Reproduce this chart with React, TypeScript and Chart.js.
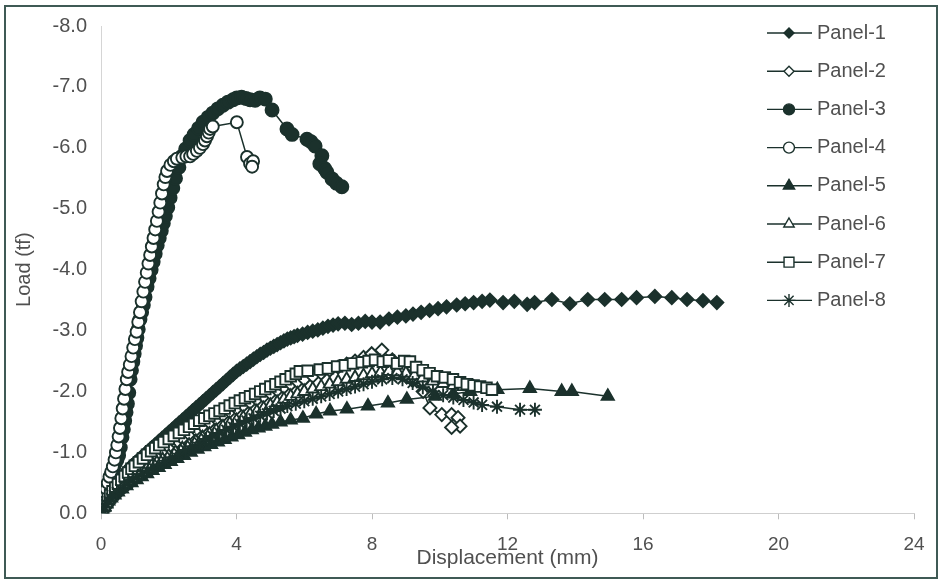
import React, { useEffect, useRef } from 'react';
import { Chart, registerables } from 'chart.js';
import { drawPoint } from 'chart.js/helpers';

Chart.register(...registerables);

// ---- data: [displacement (mm), load (tf)] ----
const seriesNames = ['Panel-1', 'Panel-2', 'Panel-3', 'Panel-4', 'Panel-5', 'Panel-6', 'Panel-7', 'Panel-8'];
const xTickValues = [0, 4, 8, 12, 16, 20, 24];
const yTickValues = [0, -1, -2, -3, -4, -5, -6, -7, -8];

const panel1: [number, number][] = [
  [0, 0], [0.05, -0.06], [0.1, -0.12], [0.15, -0.18], [0.2, -0.24], [0.25, -0.3], [0.3, -0.35], [0.36, -0.4],
  [0.42, -0.46], [0.5, -0.52], [0.58, -0.57], [0.66, -0.63], [0.74, -0.68], [0.82, -0.73], [0.9, -0.78],
  [1.0, -0.83], [1.1, -0.88], [1.2, -0.93], [1.3, -0.98], [1.4, -1.03], [1.5, -1.08], [1.6, -1.13],
  [1.7, -1.18], [1.8, -1.23], [1.9, -1.28], [2.0, -1.33], [2.1, -1.38], [2.2, -1.43], [2.3, -1.48],
  [2.4, -1.53], [2.5, -1.58], [2.6, -1.63], [2.7, -1.68], [2.8, -1.73], [2.9, -1.78], [3.0, -1.83],
  [3.1, -1.88], [3.2, -1.93], [3.3, -1.98], [3.4, -2.03], [3.5, -2.08], [3.6, -2.13], [3.7, -2.18],
  [3.8, -2.23], [3.9, -2.28], [4.0, -2.33], [4.1, -2.37], [4.2, -2.41], [4.3, -2.45], [4.4, -2.49],
  [4.5, -2.53], [4.6, -2.57], [4.7, -2.61], [4.8, -2.64], [4.9, -2.68], [5.0, -2.71], [5.1, -2.74],
  [5.2, -2.77], [5.3, -2.8], [5.4, -2.83], [5.5, -2.86], [5.6, -2.88], [5.7, -2.9], [5.8, -2.92],
  [5.95, -2.94], [6.1, -2.97], [6.25, -2.99], [6.4, -3.01], [6.55, -3.04], [6.7, -3.07], [6.85, -3.09],
  [7.0, -3.11], [7.2, -3.12], [7.4, -3.1], [7.6, -3.12], [7.8, -3.15], [8.0, -3.14], [8.24, -3.14],
  [8.5, -3.19], [8.75, -3.22], [9.0, -3.24], [9.21, -3.27], [9.45, -3.3], [9.7, -3.33], [9.95, -3.36],
  [10.2, -3.39], [10.5, -3.42], [10.75, -3.44], [11.0, -3.46], [11.25, -3.48], [11.48, -3.5],
  [11.87, -3.46], [12.2, -3.48], [12.58, -3.43], [12.8, -3.46], [13.31, -3.51], [13.84, -3.44],
  [14.37, -3.51], [14.87, -3.51], [15.37, -3.51], [15.81, -3.54], [16.35, -3.56], [16.85, -3.54],
  [17.3, -3.51], [17.77, -3.49], [18.18, -3.46],
];

const panel2: [number, number][] = [
  [0, 0], [0.05, -0.06], [0.1, -0.12], [0.15, -0.17], [0.21, -0.22], [0.28, -0.28], [0.36, -0.34],
  [0.45, -0.4], [0.55, -0.46], [0.66, -0.52], [0.78, -0.58], [0.9, -0.64], [1.03, -0.7], [1.17, -0.76],
  [1.32, -0.82], [1.48, -0.88], [1.65, -0.95], [1.83, -1.02], [2.0, -1.09], [2.2, -1.16], [2.4, -1.23],
  [2.6, -1.3], [2.8, -1.37], [3.0, -1.43], [3.2, -1.49], [3.4, -1.55], [3.6, -1.61], [3.8, -1.67],
  [4.0, -1.72], [4.2, -1.77], [4.4, -1.82], [4.6, -1.87], [4.8, -1.92], [5.0, -1.97], [5.2, -2.02],
  [5.4, -2.07], [5.6, -2.12], [5.8, -2.16], [6.0, -2.2], [6.25, -2.25], [6.5, -2.3], [6.75, -2.35],
  [7.0, -2.4], [7.25, -2.45], [7.5, -2.5], [7.75, -2.56], [7.99, -2.62], [8.29, -2.68], [8.6, -2.52],
  [8.9, -2.35], [9.2, -2.18], [9.51, -2.0], [9.71, -1.73], [10.06, -1.62], [10.35, -1.62],
  [10.54, -1.57], [10.6, -1.43], [10.35, -1.41],
];

const panel3: [number, number][] = [
  [0, 0], [0.04, -0.08], [0.08, -0.16], [0.12, -0.25], [0.17, -0.35], [0.22, -0.45], [0.27, -0.55],
  [0.32, -0.65], [0.37, -0.74], [0.42, -0.82], [0.47, -0.88], [0.52, -0.95], [0.57, -1.08],
  [0.62, -1.25], [0.66, -1.38], [0.7, -1.52], [0.74, -1.66], [0.78, -1.8], [0.82, -1.98], [0.86, -2.2],
  [0.9, -2.35], [0.94, -2.49], [0.98, -2.62], [1.02, -2.75], [1.06, -2.88], [1.1, -3.02], [1.15, -3.18],
  [1.2, -3.3], [1.25, -3.42], [1.3, -3.55], [1.36, -3.72], [1.42, -3.86], [1.48, -4.0], [1.54, -4.13],
  [1.6, -4.26], [1.66, -4.4], [1.72, -4.52], [1.78, -4.64], [1.84, -4.76], [1.9, -4.88], [1.97, -5.02],
  [2.04, -5.18], [2.12, -5.34], [2.2, -5.5], [2.3, -5.68], [2.39, -5.86], [2.5, -5.98], [2.63, -6.12],
  [2.75, -6.22], [2.88, -6.32], [3.01, -6.42], [3.16, -6.5], [3.3, -6.57], [3.45, -6.64], [3.6, -6.7],
  [3.75, -6.75], [3.9, -6.79], [4.01, -6.82], [4.15, -6.83], [4.28, -6.81], [4.4, -6.79],
  [4.55, -6.78], [4.69, -6.82], [4.85, -6.8], [5.05, -6.62], [5.49, -6.31], [5.64, -6.22],
  [6.08, -6.14], [6.2, -6.1], [6.32, -6.03], [6.52, -5.87], [6.46, -5.74], [6.6, -5.66],
  [6.67, -5.6], [6.82, -5.49], [6.95, -5.42], [7.11, -5.36],
];

const panel4: [number, number][] = [
  [0, 0], [0.04, -0.1], [0.08, -0.2], [0.12, -0.3], [0.16, -0.4], [0.2, -0.5], [0.25, -0.6],
  [0.3, -0.68], [0.35, -0.77], [0.4, -0.88], [0.44, -1.0], [0.48, -1.12], [0.52, -1.26], [0.56, -1.4],
  [0.6, -1.56], [0.64, -1.72], [0.68, -1.88], [0.72, -2.04], [0.76, -2.2], [0.8, -2.32], [0.85, -2.44],
  [0.9, -2.58], [0.95, -2.72], [1.0, -2.86], [1.05, -2.98], [1.1, -3.14], [1.15, -3.3], [1.2, -3.48],
  [1.25, -3.64], [1.3, -3.8], [1.35, -3.95], [1.4, -4.1], [1.45, -4.24], [1.5, -4.38], [1.55, -4.52],
  [1.6, -4.66], [1.65, -4.8], [1.7, -4.95], [1.75, -5.1], [1.8, -5.25], [1.85, -5.4], [1.9, -5.52],
  [1.95, -5.62], [2.05, -5.72], [2.15, -5.78], [2.24, -5.82], [2.4, -5.84], [2.52, -5.86],
  [2.63, -5.86], [2.72, -5.9], [2.83, -5.95], [2.92, -6.0], [3.01, -6.06], [3.07, -6.12],
  [3.13, -6.19], [3.18, -6.25], [3.22, -6.31], [3.3, -6.35], [4.01, -6.42], [4.31, -5.85],
  [4.4, -5.74], [4.49, -5.78], [4.46, -5.69],
];

const panel5: [number, number][] = [
  [0, 0], [0.05, -0.05], [0.1, -0.1], [0.16, -0.15], [0.22, -0.2], [0.3, -0.25], [0.4, -0.3],
  [0.5, -0.35], [0.62, -0.4], [0.75, -0.45], [0.9, -0.5], [1.05, -0.55], [1.2, -0.6], [1.36, -0.65],
  [1.52, -0.7], [1.7, -0.75], [1.88, -0.8], [2.06, -0.85], [2.25, -0.9], [2.45, -0.95], [2.65, -1.0],
  [2.85, -1.05], [3.05, -1.09], [3.25, -1.13], [3.45, -1.17], [3.65, -1.21], [3.85, -1.25],
  [4.05, -1.29], [4.25, -1.33], [4.45, -1.37], [4.65, -1.4], [4.85, -1.43], [5.05, -1.46],
  [5.3, -1.5], [5.6, -1.53], [5.96, -1.56], [6.35, -1.63], [6.76, -1.68], [7.26, -1.71],
  [7.88, -1.76], [8.47, -1.81], [9.03, -1.87], [9.86, -1.92], [10.4, -1.96], [10.9, -2.0],
  [11.7, -2.03], [12.66, -2.05], [13.6, -2.0], [13.9, -2.0], [14.96, -1.92],
];

const panel6: [number, number][] = [
  [0, 0], [0.05, -0.06], [0.1, -0.11], [0.16, -0.17], [0.23, -0.23], [0.3, -0.28], [0.38, -0.33],
  [0.47, -0.38], [0.57, -0.43], [0.68, -0.48], [0.8, -0.53], [0.92, -0.58], [1.05, -0.63], [1.2, -0.68],
  [1.35, -0.73], [1.5, -0.78], [1.65, -0.83], [1.82, -0.88], [2.0, -0.94], [2.2, -1.0], [2.4, -1.06],
  [2.6, -1.12], [2.8, -1.18], [3.0, -1.24], [3.2, -1.3], [3.4, -1.36], [3.6, -1.42], [3.8, -1.47],
  [4.0, -1.52], [4.2, -1.57], [4.4, -1.62], [4.6, -1.67], [4.8, -1.72], [5.0, -1.77], [5.2, -1.82],
  [5.4, -1.87], [5.6, -1.92], [5.8, -1.96], [6.0, -2.0], [6.25, -2.04], [6.5, -2.08], [6.75, -2.12],
  [7.0, -2.16], [7.25, -2.2], [7.5, -2.23], [7.75, -2.26], [8.0, -2.29], [8.25, -2.31], [8.5, -2.33],
  [8.75, -2.32], [9.0, -2.3], [9.25, -2.26], [9.5, -2.22], [9.8, -2.17], [10.1, -2.13], [10.4, -2.1],
  [10.7, -2.08], [11.0, -2.07],
];

const panel7: [number, number][] = [
  [0, 0], [0.05, -0.06], [0.1, -0.12], [0.15, -0.18], [0.2, -0.24], [0.27, -0.3], [0.34, -0.36],
  [0.42, -0.42], [0.5, -0.48], [0.6, -0.55], [0.7, -0.61], [0.8, -0.67], [0.9, -0.73], [1.0, -0.78],
  [1.12, -0.84], [1.24, -0.9], [1.36, -0.96], [1.48, -1.02], [1.6, -1.07], [1.72, -1.12], [1.85, -1.17],
  [2.0, -1.22], [2.15, -1.27], [2.3, -1.32], [2.45, -1.37], [2.6, -1.42], [2.75, -1.47], [2.9, -1.52],
  [3.05, -1.56], [3.2, -1.6], [3.35, -1.64], [3.5, -1.68], [3.65, -1.72], [3.8, -1.77], [3.95, -1.81],
  [4.1, -1.85], [4.25, -1.89], [4.4, -1.92], [4.55, -1.96], [4.7, -2.0], [4.85, -2.04], [5.0, -2.08],
  [5.15, -2.12], [5.3, -2.16], [5.45, -2.2], [5.6, -2.25], [5.75, -2.29], [5.87, -2.33], [6.1, -2.34],
  [6.46, -2.36], [6.7, -2.38], [6.97, -2.41], [7.2, -2.43], [7.44, -2.46], [7.7, -2.48], [7.9, -2.5],
  [8.09, -2.52], [8.32, -2.49], [8.5, -2.51], [8.74, -2.46], [8.95, -2.5], [9.12, -2.49], [9.3, -2.4],
  [9.5, -2.35], [9.7, -2.3], [9.92, -2.25], [10.15, -2.23], [10.39, -2.2], [10.6, -2.15],
  [10.8, -2.12], [11.0, -2.1], [11.19, -2.08], [11.38, -2.06], [11.54, -2.03],
];

const panel8: [number, number][] = [
  [0, 0], [0.05, -0.05], [0.1, -0.1], [0.16, -0.15], [0.23, -0.2], [0.3, -0.25], [0.38, -0.3],
  [0.47, -0.35], [0.57, -0.4], [0.68, -0.45], [0.8, -0.5], [0.93, -0.55], [1.07, -0.6], [1.22, -0.65],
  [1.38, -0.7], [1.55, -0.75], [1.72, -0.8], [1.9, -0.86], [2.1, -0.92], [2.3, -0.98], [2.5, -1.04],
  [2.7, -1.1], [2.9, -1.16], [3.1, -1.22], [3.3, -1.27], [3.5, -1.32], [3.7, -1.37], [3.9, -1.42],
  [4.1, -1.47], [4.3, -1.52], [4.5, -1.56], [4.7, -1.6], [4.9, -1.64], [5.1, -1.68], [5.3, -1.72],
  [5.5, -1.76], [5.75, -1.8], [6.0, -1.84], [6.25, -1.88], [6.5, -1.92], [6.75, -1.96], [7.0, -2.0],
  [7.25, -2.04], [7.5, -2.08], [7.75, -2.12], [8.0, -2.16], [8.3, -2.2], [8.6, -2.22], [8.9, -2.2],
  [9.2, -2.14], [9.5, -2.07], [9.8, -2.0], [10.1, -1.94], [10.4, -1.9], [10.7, -1.86], [11.0, -1.82],
  [11.25, -1.78], [11.69, -1.75], [12.37, -1.7], [12.81, -1.7],
];

const allPanels = [panel1, panel2, panel3, panel4, panel5, panel6, panel7, panel8];

// ---- styling ----
const DARK = '#1b312c';
const TEXT = '#505050';
const FONT = '"Liberation Sans", Arial, sans-serif';

const markerStyles = [
  { pointStyle: 'rectRot', radius: 6.5, fill: DARK, legendRadius: 5 },
  { pointStyle: 'rectRot', radius: 6.5, fill: '#ffffff', legendRadius: 5 },
  { pointStyle: 'circle', radius: 6.5, fill: DARK, legendRadius: 5.5 },
  { pointStyle: 'circle', radius: 6, fill: '#ffffff', legendRadius: 5.5 },
  { pointStyle: 'triangle', radius: 7, fill: DARK, legendRadius: 6.5 },
  { pointStyle: 'triangle', radius: 7, fill: '#ffffff', legendRadius: 6 },
  { pointStyle: 'rect', radius: 7.5, fill: '#ffffff', legendRadius: 7 },
  { pointStyle: 'star', radius: 7, fill: DARK, legendRadius: 6.5 },
];

const sideLegend = {
  id: 'sideLegend',
  afterDraw(chart: any) {
    const ctx = chart.ctx as CanvasRenderingContext2D;
    ctx.save();
    seriesNames.forEach((name, i) => {
      const y = 33 + i * 38.2;
      ctx.strokeStyle = DARK;
      ctx.lineWidth = 1.4;
      ctx.beginPath();
      ctx.moveTo(767, y);
      ctx.lineTo(812, y);
      ctx.stroke();
      ctx.fillStyle = markerStyles[i].fill;
      drawPoint(ctx, { pointStyle: markerStyles[i].pointStyle as any, radius: markerStyles[i].legendRadius, rotation: 0, borderWidth: 1.6 } as any, 789, y);
      ctx.fillStyle = TEXT;
      ctx.font = `20px ${FONT}`;
      ctx.textAlign = 'left';
      ctx.textBaseline = 'middle';
      ctx.fillText(name, 817, y);
    });
    ctx.restore();
  },
};

export default function App() {
  const ref = useRef<HTMLCanvasElement | null>(null);

  useEffect(() => {
    if (!ref.current) return;
    const datasets = allPanels.map((pts, i) => ({
      label: seriesNames[i],
      data: pts.map(([x, y]) => ({ x, y })),
      showLine: true,
      borderColor: DARK,
      borderWidth: 1.5,
      backgroundColor: markerStyles[i].fill,
      pointStyle: markerStyles[i].pointStyle as any,
      pointRadius: markerStyles[i].radius,
      pointBackgroundColor: markerStyles[i].fill,
      pointBorderColor: DARK,
      pointBorderWidth: 1.9,
      order: 8 - i,
      tension: 0,
    }));

    const chart = new Chart(ref.current, {
      type: 'scatter',
      data: { datasets },
      options: {
        responsive: false,
        animation: false,
        events: [],
        layout: { padding: { top: 20.5, right: 27, left: 0, bottom: 0 } },
        plugins: { legend: { display: false }, tooltip: { enabled: false } },
        scales: {
          x: {
            type: 'linear',
            min: 0,
            max: 24,
            afterBuildTicks: (s: any) => { s.ticks = xTickValues.map((v) => ({ value: v })); },
            afterFit: (s: any) => { s.height = 581 - 513.3; },
            ticks: { color: TEXT, font: { family: FONT, size: 19 }, padding: 14, maxRotation: 0 },
            grid: { display: true, drawOnChartArea: false, drawTicks: true, tickLength: 6, color: '#bdbdbd' },
            border: { display: true, color: '#cfcfcf', width: 1 },
            title: { display: true, text: 'Displacement (mm)', color: TEXT, font: { family: FONT, size: 21 }, padding: { top: 0, bottom: 10 } },
          },
          y: {
            type: 'linear',
            min: -8,
            max: 0,
            reverse: true,
            afterBuildTicks: (s: any) => { s.ticks = yTickValues.map((v) => ({ value: v })); },
            afterFit: (s: any) => { s.width = 101; },
            ticks: { color: TEXT, font: { family: FONT, size: 20 }, padding: 14, callback: (v: any) => Number(v).toFixed(1) },
            grid: { display: true, drawOnChartArea: false, drawTicks: false, color: '#d5d5d5' },
            border: { display: true, color: '#d5d5d5', width: 1 },
            title: { display: true, text: 'Load (tf)', color: TEXT, font: { family: FONT, size: 20 }, padding: { top: 12, bottom: 0 } },
          },
        },
      },
      plugins: [sideLegend],
    });
    return () => chart.destroy();
  }, []);

  return (
    <div style={{ position: 'fixed', left: 0, top: 0, width: 941, height: 581, background: '#ffffff' }}>
      <canvas ref={ref} width={941} height={581} style={{ position: 'absolute', left: 0, top: 0, width: 941, height: 581 }} />
      <div style={{ position: 'absolute', left: 4, top: 5, width: 934, height: 574, boxSizing: 'border-box', border: '2px solid #3f5a55', pointerEvents: 'none' }} />
    </div>
  );
}
